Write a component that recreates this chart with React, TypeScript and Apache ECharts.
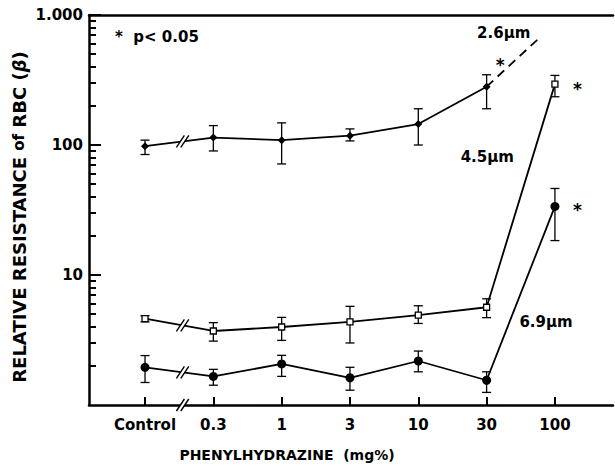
import React, { useEffect, useRef } from "react";
import * as echarts from "echarts";

const categories = ["Control", "0.3", "1", "3", "10", "30", "100"];
// 2.6 µm filter
const s26 = [98, 114, 109, 118, 145, 281];
const s26Lo = [84.5, 90, 71.5, 107.5, 100, 190];
const s26Hi = [109, 141, 148, 133, 190, 347];
const s26Off = [5.75, 650]; // dashed continuation off scale
// 4.5 µm filter
const s45 = [4.62, 3.71, 3.98, 4.36, 4.91, 5.65, 294];
const s45Lo = [4.36, 3.1, 3.14, 3.0, 4.24, 4.7, 235];
const s45Hi = [4.87, 4.3, 4.72, 5.74, 5.8, 6.56, 343];
// 6.9 µm filter
const s69 = [1.95, 1.66, 2.07, 1.62, 2.18, 1.55, 33.7];
const s69Lo = [1.49, 1.42, 1.66, 1.3, 1.8, 1.25, 18.4];
const s69Hi = [2.4, 1.88, 2.41, 1.95, 2.6, 1.8, 46.3];

const majorTicks = [10, 100, 1000];
const minorTicks = [2, 3, 4, 5, 6, 7, 8, 9, 20, 30, 40, 50, 60, 70, 80, 90, 200, 300, 400, 500, 600, 700, 800, 900];
const stars: [number, number][] = [[5.2, 445], [6.33, 290], [6.33, 34]];
const seriesLabels: [number, number, string][] = [[5.25, 725, "2.6µm"], [5.01, 80.9, "4.5µm"], [5.87, 4.35, "6.9µm"]];

const FONT = "'DejaVu Sans', 'Liberation Sans', Arial, sans-serif";
const W = 615;
const H = 472;

export default function App() {
  const ref = useRef<HTMLDivElement>(null);
  useEffect(() => {
    if (!ref.current) return;
    const chart = echarts.init(ref.current, null, { renderer: "svg" });
    const idx = categories.map((_, i) => i);
    const pts = (arr: number[]) => arr.map((v, i) => [i, v]);
    const errData: number[][] = [];
    [[s26Lo, s26Hi], [s45Lo, s45Hi], [s69Lo, s69Hi]].forEach(([lo, hi]) => {
      lo.forEach((l, i) => errData.push([i, l, hi[i]]));
    });
    const lines = [s26, s45, s69];
    const breakT = 0.55;
    const xMin = -0.82;
    const grid = { left: 89, right: 2, top: 15, bottom: 67 };
    const plotW = W - grid.left - grid.right;
    const option: any = {
      animation: false,
      backgroundColor: "#fff",
      grid,
      xAxis: [
        {
          type: "value",
          min: xMin,
          max: 6.85,
          splitLine: { show: false },
          axisLine: { onZero: false, lineStyle: { color: "#000", width: 2.5 } },
          axisTick: { customValues: idx, inside: true, length: 8, lineStyle: { color: "#000", width: 2 } },
          axisLabel: {
            customValues: idx,
            formatter: (v: number) => categories[Math.round(v)] ?? "",
            color: "#000",
            fontFamily: FONT,
            fontWeight: "bold",
            fontSize: 15,
            margin: 12,
          },
        },
        {
          type: "value",
          min: xMin,
          max: 6.85,
          splitLine: { show: false },
          position: "top",
          axisLine: { show: true, onZero: false, lineStyle: { color: "#000", width: 2.5 } },
          axisTick: { show: false },
          axisLabel: { show: false },
        },
      ],
      yAxis: [
        {
          type: "log",
          min: 1,
          max: 1000,
          position: "left",
          splitLine: { show: false },
          axisLine: { show: true, onZero: false, lineStyle: { color: "#000", width: 2.5 } },
          axisTick: { show: true, customValues: majorTicks, inside: true, length: 12, lineStyle: { color: "#000", width: 2 } },
          axisLabel: {
            customValues: majorTicks,
            formatter: (v: number) => (v >= 1000 ? "1.000" : String(v)),
            color: "#000",
            fontFamily: FONT,
            fontWeight: "bold",
            fontSize: 15,
            margin: 6,
          },
        },
        {
          type: "log",
          min: 1,
          max: 1000,
          position: "right",
          offset: -plotW,
          splitLine: { show: false },
          axisLine: { show: false, onZero: false },
          axisTick: { show: true, customValues: minorTicks, inside: false, length: 7, lineStyle: { color: "#000", width: 2 } },
          axisLabel: { show: false },
        },
      ],
      series: [
        {
          type: "line",
          name: "2.6µm",
          data: pts(s26),
          symbol: "diamond",
          symbolSize: 8,
          itemStyle: { color: "#000" },
          lineStyle: { color: "#000", width: 1.8 },
          z: 3,
        },
        {
          type: "line",
          name: "2.6µm-off",
          data: [[5, s26[5]], s26Off],
          symbol: "none",
          lineStyle: { color: "#000", width: 1.8, type: [9, 6] },
          z: 3,
        },
        {
          type: "line",
          name: "4.5µm",
          data: pts(s45),
          symbol: "rect",
          symbolSize: 6,
          itemStyle: { color: "#fff", borderColor: "#000", borderWidth: 1.3 },
          lineStyle: { color: "#000", width: 1.8 },
          z: 4,
        },
        {
          type: "line",
          name: "6.9µm",
          data: pts(s69),
          symbol: "circle",
          symbolSize: 9,
          itemStyle: { color: "#000" },
          lineStyle: { color: "#000", width: 1.8 },
          z: 3,
        },
        {
          type: "custom",
          name: "errors",
          data: errData,
          z: 2,
          renderItem: (params: any, api: any) => {
            const x = api.value(0);
            const lo = api.coord([x, api.value(1)]);
            const hi = api.coord([x, api.value(2)]);
            const w = 4.5;
            const st = { stroke: "#000", lineWidth: 1.3 };
            return {
              type: "group",
              children: [
                { type: "line", shape: { x1: lo[0], y1: lo[1], x2: hi[0], y2: hi[1] }, style: st },
                { type: "line", shape: { x1: lo[0] - w, y1: lo[1], x2: lo[0] + w, y2: lo[1] }, style: st },
                { type: "line", shape: { x1: hi[0] - w, y1: hi[1], x2: hi[0] + w, y2: hi[1] }, style: st },
              ],
            };
          },
        },
        {
          type: "custom",
          name: "breaks",
          data: [[0], [1], [2], [3]],
          z: 10,
          renderItem: (params: any, api: any) => {
            const k = api.value(0);
            let p0: number[], p1: number[];
            if (k < 3) {
              p0 = api.coord([0, lines[k][0]]);
              p1 = api.coord([1, lines[k][1]]);
            } else {
              p0 = api.coord([0, 1]);
              p1 = api.coord([1, 1]);
            }
            const cx = p0[0] + (p1[0] - p0[0]) * breakT;
            const cy = p0[1] + (p1[1] - p0[1]) * breakT;
            const d = 2.2, a = 4, b = 6;
            const st = { stroke: "#000", lineWidth: 1.4 };
            return {
              type: "group",
              children: [
                {
                  type: "polygon",
                  shape: { points: [[cx - d - a, cy + b], [cx - d + a, cy - b], [cx + d + a, cy - b], [cx + d - a, cy + b]] },
                  style: { fill: "#fff" },
                },
                { type: "line", shape: { x1: cx - d - a, y1: cy + b, x2: cx - d + a, y2: cy - b }, style: st },
                { type: "line", shape: { x1: cx + d - a, y1: cy + b, x2: cx + d + a, y2: cy - b }, style: st },
              ],
            };
          },
        },
        {
          type: "custom",
          name: "stars",
          data: stars,
          z: 5,
          renderItem: (params: any, api: any) => {
            const p = api.coord([api.value(0), api.value(1)]);
            return {
              type: "text",
              style: {
                text: "*",
                x: p[0],
                y: p[1] + 4,
                fill: "#000",
                font: `bold 17px ${FONT}`,
                align: "center",
                verticalAlign: "middle",
              },
            };
          },
        },
        {
          type: "custom",
          name: "seriesLabels",
          data: seriesLabels.map(([x, y]) => [x, y]),
          z: 5,
          renderItem: (params: any, api: any) => {
            const p = api.coord([api.value(0), api.value(1)]);
            return {
              type: "text",
              style: {
                text: seriesLabels[params.dataIndex][2],
                x: p[0],
                y: p[1],
                fill: "#000",
                font: `bold 15px ${FONT}`,
                align: "center",
                verticalAlign: "middle",
              },
            };
          },
        },
      ],
      graphic: [
        {
          type: "text",
          left: 115,
          top: 29,
          style: {
            text: "*  p< 0.05",
            fill: "#000",
            font: `bold 15px ${FONT}`,
          },
        },
        {
          type: "text",
          x: 287,
          y: 455,
          style: {
            text: "PHENYLHYDRAZINE  (mg%)",
            fill: "#000",
            font: `bold 14px ${FONT}`,
            align: "center",
            verticalAlign: "middle",
          },
        },
        {
          type: "text",
          x: 19,
          y: 217,
          rotation: Math.PI / 2,
          style: {
            text: "{a|RELATIVE RESISTANCE }{c|of}{a| RBC (}{b|β}{a|)}",
            align: "center",
            verticalAlign: "middle",
            rich: {
              a: { fill: "#000", font: `bold 18px ${FONT}` },
              c: { fill: "#000", font: `bold 15px ${FONT}` },
              b: { fill: "#000", font: `italic bold 18px ${FONT}` },
            },
          },
        },
      ],
    };
    chart.setOption(option);
    return () => chart.dispose();
  }, []);
  return <div ref={ref} style={{ position: "absolute", left: 0, top: 0, width: W, height: H }} />;
}
